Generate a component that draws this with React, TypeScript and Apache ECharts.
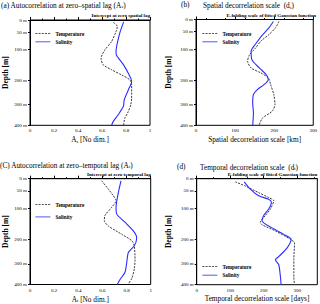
import React, { useEffect, useRef } from "react";
import * as echarts from "echarts";

// ---- depth axis (non-linear in the figure) ----
const DEPTH_TICKS = [0, 50, 100, 200, 300, 400];
const DEPTH_TICK_LABELS = ["0 m", "50 m", "100 m", "200 m", "300 m", "400 m"];
const DEPTH_AXIS_POS = [0, 0.115, 0.28, 0.572, 0.804, 1];

// ---- panel (a): autocorrelation at zero spatial lag ----
const aTempDepth = [10, 26, 47, 77, 101, 128, 150, 166, 183, 199, 219, 273, 300, 340, 365, 400];
const aTempVal = [0.694, 0.728, 0.717, 0.68, 0.625, 0.592, 0.61, 0.68, 0.764, 0.833, 0.847, 0.847, 0.84, 0.814, 0.79, 0.78];
const aSalDepth = [8, 58, 106, 118, 150, 188, 205, 239, 279, 308, 348, 381, 400];
const aSalVal = [0.78, 0.744, 0.717, 0.72, 0.78, 0.833, 0.847, 0.82, 0.786, 0.778, 0.736, 0.694, 0.68];

// ---- panel (b): spatial decorrelation scale [km] ----
const bTempDepth = [8, 33, 58, 77, 96, 118, 139, 161, 177, 193, 219, 259, 300, 332, 365, 397];
const bTempVal = [212, 204, 187, 166, 153, 137, 132, 141, 166, 185, 191, 199, 202, 195, 170, 162];
const bSalDepth = [8, 33, 62, 86, 106, 134, 161, 183, 199, 219, 239, 259, 293, 340, 400];
const bSalVal = [198, 187, 168, 152, 141, 143, 162, 180, 185, 174, 157, 147, 145, 147, 145];

// ---- panel (c): autocorrelation at zero temporal lag ----
const cTempDepth = [9, 43, 64, 78, 97, 123, 140, 157, 184, 206, 227, 283, 325, 371, 400];
const cTempVal = [0.594, 0.649, 0.69, 0.713, 0.677, 0.621, 0.616, 0.649, 0.76, 0.843, 0.864, 0.87, 0.864, 0.843, 0.81];
const cSalDepth = [9, 55, 97, 118, 145, 173, 195, 227, 254, 297, 341, 376, 400];
const cSalVal = [0.754, 0.732, 0.713, 0.718, 0.787, 0.856, 0.884, 0.864, 0.815, 0.801, 0.787, 0.746, 0.723];

// ---- panel (d): temporal decorrelation scale [days] ----
const dTempDepth = [13, 30, 55, 69, 78, 102, 123, 145, 153, 173, 200, 215, 283, 363, 400];
const dTempVal = [115, 145, 185, 215, 230, 220, 205, 190, 195, 235, 280, 292, 290, 290, 292];
const dSalDepth = [13, 43, 64, 74, 83, 102, 123, 140, 163, 184, 200, 235, 270, 283, 304, 363, 400];
const dSalVal = [142, 160, 185, 215, 223, 215, 200, 195, 225, 260, 282, 270, 245, 235, 245, 250, 252];

const AC_TICKS = [0, 0.2, 0.4, 0.6, 0.8, 1];
const AC_TICK_LABELS = ["0", "0.2", "0.4", "0.6", "0.8", "1"];
const SCALE_TICKS = [0, 100, 200, 300];

const SERIF = "Liberation Serif";

function depthPos(d: number): number {
  for (let i = 1; i < DEPTH_TICKS.length; i++) {
    if (d <= DEPTH_TICKS[i]) {
      const f = (d - DEPTH_TICKS[i - 1]) / (DEPTH_TICKS[i] - DEPTH_TICKS[i - 1]);
      return DEPTH_AXIS_POS[i - 1] + f * (DEPTH_AXIS_POS[i] - DEPTH_AXIS_POS[i - 1]);
    }
  }
  return 1;
}

function depthLabel(v: number): string {
  let best = 0;
  for (let i = 0; i < DEPTH_AXIS_POS.length; i++) {
    if (Math.abs(DEPTH_AXIS_POS[i] - v) < Math.abs(DEPTH_AXIS_POS[best] - v)) best = i;
  }
  return DEPTH_TICK_LABELS[best];
}

function pairs(depths: number[], vals: number[]) {
  return depths.map((d, i) => [vals[i], depthPos(d)]);
}

const subRich = {
  s: { fontSize: 4.5, fontFamily: SERIF, verticalAlign: "bottom", padding: [3, 0, 0, 0] },
};

export default function App() {
  const ref = useRef<HTMLDivElement>(null);
  useEffect(() => {
    document.body.style.margin = "0";
    if (!ref.current) return;
    const chart = echarts.init(ref.current, undefined, { renderer: "svg" });

    const grids = [
      { left: 30, right: 170, top: 20, bottom: 178.7 },
      { left: 196, right: 5, top: 19.5, bottom: 178.7 },
      { left: 30, right: 169.3, top: 178.7, bottom: 19.3 },
      { left: 196.7, right: 2.7, top: 178.7, bottom: 19.3 },
    ].map((g) => ({ ...g, show: true, borderColor: "#000", borderWidth: 1, containLabel: false }));

    const xName = [
      "A{s|s} [No dim.]",
      "Spatial decorrelation scale [km]",
      "A{s|t} [No dim.]",
      "Temporal decorrelation scale [days]",
    ];
    const xMax = [1, 300, 1, 360];

    const xAxes = [0, 1, 2, 3].map((i) => {
      const isAc = i === 0 || i === 2;
      return {
        type: "value",
        gridIndex: i,
        min: 0,
        max: xMax[i],
        name: xName[i],
        nameLocation: "middle",
        nameGap: 10.5,
        nameTextStyle: { fontFamily: SERIF, fontSize: 7.3, color: "#000", rich: subRich },
        axisLine: { show: true, lineStyle: { color: "#000", width: 1 } },
        axisTick: {
          show: true,
          inside: true,
          length: 3,
          customValues: isAc ? AC_TICKS : SCALE_TICKS,
          lineStyle: { color: "#000" },
        },
        minorTick: { show: true, splitNumber: 2, length: 1.5, lineStyle: { color: "#000" } },
        axisLabel: {
          customValues: isAc ? AC_TICKS : SCALE_TICKS,
          formatter: (v: number) => (isAc ? AC_TICK_LABELS[Math.round(v * 5)] : String(v)),
          fontFamily: SERIF,
          fontSize: 5,
          color: "#000",
          margin: 3,
        },
        splitLine: { show: false },
      };
    });

    const yAxes = [0, 1, 2, 3].map((i) => ({
      type: "value",
      gridIndex: i,
      inverse: true,
      min: 0,
      max: 1,
      name: "Depth [m]",
      nameLocation: "middle",
      nameGap: i % 2 === 0 ? 21 : 24,
      nameTextStyle: { fontFamily: SERIF, fontSize: 7.5, fontWeight: "bold", color: "#000" },
      axisLine: { show: true, lineStyle: { color: "#000", width: 1 } },
      axisTick: { show: true, inside: false, length: 2, customValues: DEPTH_AXIS_POS, lineStyle: { color: "#000" } },
      axisLabel: {
        customValues: DEPTH_AXIS_POS,
        formatter: (v: number) => depthLabel(v),
        fontFamily: SERIF,
        fontSize: 5,
        color: "#000",
        margin: 3,
      },
      splitLine: { show: false },
    }));

    const tempLine = { color: "#222", width: 0.9, type: [2, 1.2] };
    const salLine = { color: "#2b2bff", width: 1.1, type: "solid" };

    const panels = [
      [aTempDepth, aTempVal, aSalDepth, aSalVal],
      [bTempDepth, bTempVal, bSalDepth, bSalVal],
      [cTempDepth, cTempVal, cSalDepth, cSalVal],
      [dTempDepth, dTempVal, dSalDepth, dSalVal],
    ];
    const series: any[] = [];
    panels.forEach((p, i) => {
      series.push({
        type: "line",
        name: "Temperature",
        xAxisIndex: i,
        yAxisIndex: i,
        data: pairs(p[0] as number[], p[1] as number[]),
        showSymbol: false,
        symbol: "none",
        smooth: 0.25,
        lineStyle: tempLine,
        itemStyle: { color: "#222" },
      });
      series.push({
        type: "line",
        name: "Salinity",
        xAxisIndex: i,
        yAxisIndex: i,
        data: pairs(p[2] as number[], p[3] as number[]),
        showSymbol: false,
        symbol: "none",
        smooth: 0.25,
        lineStyle: salLine,
        itemStyle: { color: "#2b2bff" },
      });
    });

    const legendBase = {
      orient: "vertical",
      itemWidth: 15,
      itemHeight: 6,
      padding: 0,
      selectedMode: false,
      itemStyle: { opacity: 0, borderWidth: 0 },
      lineStyle: { width: 0.8 },
      textStyle: { fontFamily: SERIF, fontSize: 5.2, fontWeight: "bold", color: "#000", padding: [0, 0, 0, 0] },
      data: ["Temperature", "Salinity"],
    };
    const legends = [
      { ...legendBase, left: 35, top: 31, itemGap: 3.3 },
      { ...legendBase, left: 202, top: 31, itemGap: 3.3 },
      { ...legendBase, left: 35, top: 202, itemGap: 7.4 },
      { ...legendBase, left: 202, top: 264, itemGap: 3.7 },
    ];

    const mainStyle = { fontFamily: SERIF, fontSize: 7.3, fontWeight: "normal", color: "#000", rich: subRich };
    const subStyle = { fontFamily: SERIF, fontSize: 5, fontWeight: "bold", color: "#000" };
    const titles = [
      { text: "(a) Autocorrelation at zero\u2013spatial lag (A{s|s})", left: 1, top: 1, padding: 0, textStyle: mainStyle },
      { text: "Intercept at zero spatial lag", right: 170, top: 12.5, padding: 0, textStyle: subStyle },
      { text: "(b)", left: 181, top: 1, padding: 0, textStyle: mainStyle },
      { text: "Spatial decorrelation scale  (d{s|s})", left: 203, top: 1.5, padding: 0, textStyle: mainStyle },
      { text: "E-folding scale of fitted Gaussian function", right: 4, top: 12.5, padding: 0, textStyle: subStyle },
      { text: "(C) Autocorrelation at zero\u2013temporal lag (A{s|t})", left: 0, top: 161, padding: 0, textStyle: mainStyle },
      { text: "Intercept at zero temporal lag", right: 169.3, top: 172, padding: 0, textStyle: subStyle },
      { text: "(d)", left: 177, top: 163, padding: 0, textStyle: mainStyle },
      { text: "Temporal decorrelation scale  (d{s|t})", left: 200, top: 163, padding: 0, textStyle: mainStyle },
      { text: "E-folding scale of fitted Gaussian function", right: 2.7, top: 172, padding: 0, textStyle: subStyle },
    ];

    chart.setOption({
      animation: false,
      backgroundColor: "#fff",
      title: titles,
      grid: grids,
      xAxis: xAxes,
      yAxis: yAxes,
      legend: legends,
      series,
    });
    return () => chart.dispose();
  }, []);
  return <div ref={ref} style={{ width: 320, height: 304 }} />;
}
